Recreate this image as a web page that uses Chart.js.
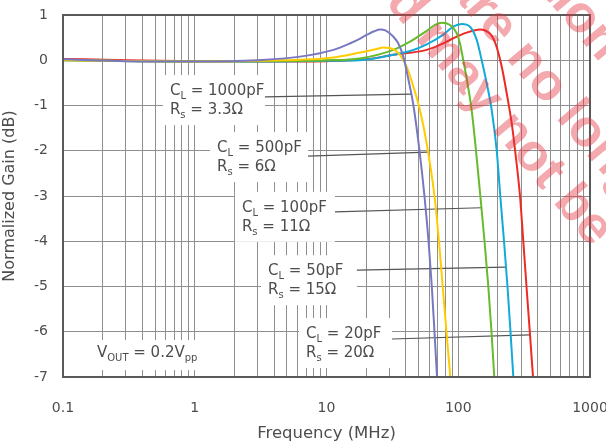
<!DOCTYPE html>
<html>
<head>
<meta charset="utf-8">
<script src="https://cdn.jsdelivr.net/npm/chart.js@4.4.1/dist/chart.umd.min.js"></script>
<style>
html, body { margin: 0; padding: 0; background: #fff; }
canvas { display: block; }
</style>
</head>
<body>
<canvas id="gain-chart" width="606" height="447"></canvas>
<script>
// frequency (MHz) / normalized gain (dB)
const freq1000 = [0.1, 0.3, 1, 3, 6.3, 11.3, 15, 18, 20.5, 23, 25.5, 28, 32.2, 35.1, 38.3, 41.8, 45.7, 50.8, 55.4, 59.5, 63, 66, 69];
const gain1000 = [0.02, -0.02, -0.03, 0, 0.08, 0.23, 0.37, 0.48, 0.57, 0.64, 0.68, 0.66, 0.52, 0.37, 0.08, -0.42, -1, -2, -3, -4, -5, -6, -7];

const freq500 = [0.1, 1, 3, 6.3, 11.3, 17.9, 20.2, 24, 27, 32.2, 36.1, 40.6, 45.6, 51.2, 57.6, 66, 71.4, 76.2, 81.4, 87];
const gain500 = [0, -0.03, -0.01, 0.01, 0.06, 0.17, 0.2, 0.25, 0.28, 0.24, 0.12, -0.14, -0.58, -1.1, -1.84, -3, -4, -5, -6, -7];

const freq100 = [0.1, 1, 3, 10, 17.9, 32.2, 43, 57.6, 66.6, 74.8, 86.5, 97.3, 103.1, 109.2, 115.8, 126.4, 136.4, 147.1, 158.3, 169.1, 178.8, 187.7];
const gain100 = [0, -0.03, -0.02, 0, 0.04, 0.23, 0.41, 0.65, 0.78, 0.83, 0.78, 0.6, 0.37, 0, -0.4, -1.1, -2, -3, -4, -5, -6, -7];

const freq50 = [0.1, 1, 3, 10, 17.9, 32.2, 45, 57.6, 76.6, 91, 106.2, 122.8, 138, 150.7, 164.5, 179.5, 195.9, 208.5, 222.5, 236.4, 249.2, 261.8];
const gain50 = [0, -0.03, -0.03, -0.01, 0, 0.12, 0.22, 0.35, 0.56, 0.74, 0.8, 0.74, 0.45, 0, -0.51, -1.1, -2, -3, -4, -5, -6, -7];

const freq20 = [0.1, 0.3, 1, 3, 10, 20, 32.2, 57.6, 76.6, 91, 115.8, 146, 174, 184.5, 195.9, 213.7, 233.2, 254.5, 269.7, 294.2, 311.7, 329.6, 349.2, 369.3];
const gain20 = [0.03, 0, -0.02, -0.03, -0.02, 0.02, 0.12, 0.23, 0.37, 0.48, 0.61, 0.68, 0.59, 0.48, 0.29, -0.14, -0.73, -1.39, -1.98, -3, -4, -5, -6, -7];

const xTickLabels = ['0.1', '1', '10', '100', '1000'];
const yTicks = [1, 0, -1, -2, -3, -4, -5, -6, -7];

const textColor = '#4d4d4d';
const gridColor = '#8e8e8e';
const mainFont = 'DejaVu Sans';

// minor log grid: 1..9 in every decade
const gridFreqs = [];
xTickLabels.forEach((lbl, i) => {
    const d = parseFloat(lbl);
    const steps = i < xTickLabels.length - 1 ? 9 : 1;
    for (let k = 1; k <= steps; k++) gridFreqs.push(+(d * k).toPrecision(3));
});

function pts(fs, gs) {
    return fs.map((f, i) => ({ x: f, y: gs[i] }));
}

const series = [
    { f: freq1000, g: gain1000, color: '#7878c2' },
    { f: freq500, g: gain500, color: '#ffcc00' },
    { f: freq100, g: gain100, color: '#66bb2a' },
    { f: freq50, g: gain50, color: '#12aad8' },
    { f: freq20, g: gain20, color: '#ee2a24' }
];

// callouts: text anchor and leader start in data units, leader ends on a curve at a dB level
const callouts = [
    { ds: 0, cap: '1000pF', rs: '3.3Ω', at: [0.648, -0.77], from: [3.41, -0.81], toY: -0.75 },
    { ds: 1, cap: '500pF', rs: '6Ω', at: [1.476, -2.03], from: [7.24, -2.12], toY: -2.03 },
    { ds: 2, cap: '100pF', rs: '11Ω', at: [2.28, -3.35], from: [11.6, -3.35], toY: -3.26 },
    { ds: 3, cap: '50pF', rs: '15Ω', at: [3.6, -4.75], from: [17.0, -4.64], toY: -4.57 },
    { ds: 4, cap: '20pF', rs: '20Ω', at: [6.99, -6.14], from: [31.4, -6.16], toY: -6.07 }
];

function richWidth(ctx, parts) {
    let w = 0;
    parts.forEach(p => {
        ctx.font = p[1] ? '10px "' + mainFont + '"' : '15px "' + mainFont + '"';
        w += ctx.measureText(p[0]).width;
    });
    return w;
}

function drawRich(ctx, parts, x, y) {
    parts.forEach(p => {
        ctx.font = p[1] ? '10px "' + mainFont + '"' : '15px "' + mainFont + '"';
        ctx.fillText(p[0], x, p[1] ? y + 4 : y);
        x += ctx.measureText(p[0]).width;
    });
    return x;
}

function crossX(chart, di, py) {
    const el = chart.getDatasetMeta(di).data;
    for (let i = el.length - 1; i > 0; i--) {
        const a = el[i - 1], b = el[i];
        if ((a.y - py) * (b.y - py) <= 0 && a.y !== b.y) {
            return a.x + (py - a.y) / (b.y - a.y) * (b.x - a.x);
        }
    }
    return el[el.length - 1].x;
}

const decor = {
    id: 'decor',
    beforeDatasetsDraw(chart) {
        const ctx = chart.ctx;
        const xs = chart.scales.x, ys = chart.scales.y;
        ctx.save();
        ctx.fillStyle = textColor;
        ctx.textBaseline = 'alphabetic';
        callouts.forEach(c => {
            const tx = xs.getPixelForValue(c.at[0]);
            const ty = ys.getPixelForValue(c.at[1]);
            const sx = xs.getPixelForValue(c.from[0]);
            const sy = ys.getPixelForValue(c.from[1]);
            const ey = ys.getPixelForValue(c.toY);
            const ex = crossX(chart, c.ds, ey);
            ctx.fillStyle = '#fff';
            ctx.fillRect(tx - 7, ty - 20, sx - tx + 7, 50);
            ctx.fillStyle = textColor;
            drawRich(ctx, [['C'], ['L', 1], [' = ' + c.cap]], tx, ty);
            drawRich(ctx, [['R'], ['s', 1], [' = ' + c.rs]], tx, ty + 19);
            ctx.strokeStyle = '#555';
            ctx.lineWidth = 1.2;
            ctx.beginPath();
            ctx.moveTo(sx, sy);
            ctx.lineTo(ex, ey);
            ctx.stroke();
        });
        // output level note
        const vParts = [['V'], ['OUT', 1], [' = 0.2V'], ['pp', 1]];
        const vx = xs.getPixelForValue(0.181);
        const vy = ys.getPixelForValue(-6.56);
        const vw = richWidth(ctx, vParts);
        ctx.fillStyle = '#fff';
        ctx.fillRect(vx - 6, vy - 17, vw + 12, 30);
        ctx.fillStyle = textColor;
        drawRich(ctx, vParts, vx, vy);
        ctx.restore();
    },
    afterDatasetsDraw(chart) {
        const a = chart.chartArea;
        const ctx = chart.ctx;
        ctx.save();
        ctx.strokeStyle = '#5a5a5a';
        ctx.lineWidth = 2;
        ctx.strokeRect(a.left, a.top, a.right - a.left, a.bottom - a.top);
        ctx.restore();
    },
    afterDraw(chart) {
        // faint red stamp across the upper right
        const ctx = chart.ctx;
        const size = 52;
        const ang = 50 * Math.PI / 180;
        ctx.save();
        ctx.font = 'bold ' + size + 'px "Liberation Sans"';
        ctx.fillStyle = 'rgba(226, 50, 62, 0.42)';
        const stamp = [
            ['and may not be', 4, 440, 47],
            ['are no longer', 2, 497, 27],
            ['information', 9, 580, 18]
        ];
        stamp.forEach(([txt, idx, cx, cy]) => {
            const pre = ctx.measureText(txt.slice(0, idx)).width;
            const w = ctx.measureText(txt[idx]).width;
            ctx.save();
            ctx.translate(cx, cy);
            ctx.rotate(ang);
            ctx.fillText(txt, -pre - w / 2, size * 0.26);
            ctx.restore();
        });
        ctx.restore();
    }
};

const ctx = document.getElementById('gain-chart').getContext('2d');
const gainChart = new Chart(ctx, {
    type: 'line',
    data: {
        datasets: series.map(s => ({
            data: pts(s.f, s.g),
            borderColor: s.color,
            borderWidth: 2,
            pointRadius: 0,
            fill: false,
            cubicInterpolationMode: 'monotone'
        }))
    },
    options: {
        responsive: false,
        animation: false,
        devicePixelRatio: 1,
        layout: { padding: { top: 15, right: 16, left: 0, bottom: 0 } },
        plugins: { legend: { display: false }, tooltip: { enabled: false } },
        scales: {
            x: {
                type: 'logarithmic',
                min: 0.1,
                max: 1000,
                afterBuildTicks: scale => {
                    scale.ticks = gridFreqs.map(v => ({ value: v }));
                },
                afterFit: scale => {
                    scale.height = 70;
                    scale.paddingLeft = 0;
                    scale.paddingRight = 0;
                },
                ticks: {
                    autoSkip: false,
                    maxRotation: 0,
                    padding: 23,
                    color: textColor,
                    font: { family: mainFont, size: 14 },
                    callback: v => {
                        const i = xTickLabels.findIndex(l => Math.abs(parseFloat(l) - v) < 1e-9);
                        return i >= 0 ? xTickLabels[i] : '';
                    }
                },
                grid: { color: gridColor, lineWidth: 1, drawTicks: false },
                border: { display: false },
                title: {
                    display: true,
                    text: 'Frequency (MHz)',
                    color: textColor,
                    font: { family: mainFont, size: 16.5 },
                    padding: { top: 4, bottom: 3 }
                }
            },
            y: {
                min: -7,
                max: 1,
                afterBuildTicks: scale => {
                    scale.ticks = yTicks.map(v => ({ value: v }));
                },
                afterFit: scale => {
                    scale.width = 63;
                    scale.paddingTop = 0;
                    scale.paddingBottom = 0;
                },
                ticks: {
                    padding: 15,
                    color: textColor,
                    font: { family: mainFont, size: 14 },
                    callback: v => String(v)
                },
                grid: { color: gridColor, lineWidth: 1, drawTicks: false },
                border: { display: false },
                title: {
                    display: true,
                    text: 'Normalized Gain (dB)',
                    color: textColor,
                    font: { family: mainFont, size: 16 },
                    padding: { top: 0, bottom: 2 }
                }
            }
        }
    },
    plugins: [decor]
});
</script>
</body>
</html>
